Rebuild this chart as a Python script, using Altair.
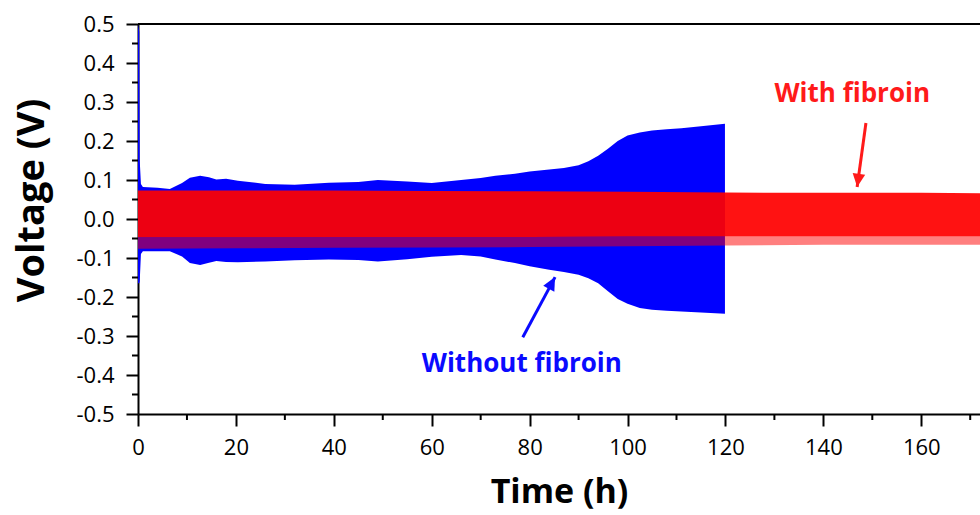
import math
import altair as alt
import pandas as pd

# ---- cell voltage envelopes (h, V) ----
# without fibroin: upper / lower edge of the cycling signal
blue_t = [0, 0.25, 0.35, 0.6, 1, 4, 6.5, 9, 10.6, 12.7,
          14.5, 16, 18, 20.4, 26, 32, 39, 45, 49, 55,
          60, 66, 70, 73, 77, 80, 84, 87, 90, 92,
          94, 96, 98, 100, 102.5, 105, 108, 111, 115, 119.9]
blue_upper = [0.5, 0.48, 0.15, 0.09, 0.082, 0.08, 0.077, 0.092, 0.106, 0.111,
              0.107, 0.101, 0.103, 0.098, 0.09, 0.088, 0.093, 0.095, 0.1, 0.096,
              0.092, 0.1, 0.105, 0.111, 0.116, 0.122, 0.127, 0.131, 0.138, 0.148,
              0.162, 0.18, 0.2, 0.214, 0.222, 0.227, 0.23, 0.233, 0.238, 0.244]
blue_lower = [-0.165, -0.165, -0.16, -0.09, -0.083, -0.083, -0.083, -0.096, -0.113, -0.118,
              -0.112, -0.108, -0.11, -0.111, -0.109, -0.106, -0.104, -0.105, -0.109, -0.103,
              -0.097, -0.092, -0.096, -0.104, -0.113, -0.121, -0.13, -0.136, -0.143, -0.152,
              -0.165, -0.185, -0.205, -0.217, -0.228, -0.233, -0.235, -0.237, -0.24, -0.243]

# with fibroin: solid band plus the spiky lower fringe
red_t = [0, 20, 40, 60, 80, 100, 120, 140, 160, 172]
red_upper = [0.073, 0.073, 0.073, 0.072, 0.071, 0.07, 0.068, 0.067, 0.067, 0.066]
red_lower = [-0.047, -0.047, -0.046, -0.046, -0.046, -0.045, -0.045, -0.045, -0.045, -0.045]
red_fringe = [-0.076, -0.075, -0.074, -0.073, -0.072, -0.07, -0.068, -0.066, -0.066, -0.066]

# axis ticks
x_major = [0, 20, 40, 60, 80, 100, 120, 140, 160]
x_minor = [10, 30, 50, 70, 90, 110, 130, 150, 170]
y_major = [-0.5, -0.4, -0.3, -0.2, -0.1, 0.0, 0.1, 0.2, 0.3, 0.4, 0.5]
y_minor = [-0.45, -0.35, -0.25, -0.15, -0.05, 0.05, 0.15, 0.25, 0.35, 0.45]

# annotations: label anchor, arrow tail, arrow tip
ann_text = ["With fibroin", "Without fibroin"]
ann_color = ["#ff1a1a", "#0a0aff"]
ann_tx = [145.9, 78.4]
ann_ty = [0.30, -0.392]
arrow_x0 = [148.7, 78.6]
arrow_y0 = [0.246, -0.303]
arrow_x1 = [146.9, 85.2]
arrow_y1 = [0.082, -0.149]

T_MAX = 172
W, H = 842, 390
FONT = "Open Sans"

x_scale = alt.Scale(domain=[0, T_MAX], nice=False, zero=False)
y_scale = alt.Scale(domain=[-0.5, 0.5], nice=False, zero=False)

blue = pd.DataFrame({"t": blue_t, "hi": blue_upper, "lo": blue_lower})
red = pd.DataFrame({"t": red_t, "hi": red_upper, "lo": red_lower, "fr": red_fringe})

x_axis = alt.Axis(
    values=x_major, grid=False,
    labelFont=FONT, labelFontSize=22, labelColor="black", labelPadding=11,
    labelFlush=False, labelOverlap=False,
    tickSize=12, tickWidth=2, tickColor="black",
    domainWidth=2, domainColor="black",
    titleFont=FONT, titleFontSize=34, titleFontWeight="bold", titleColor="black",
    titleY=88, titleBaseline="alphabetic",
)
y_axis = alt.Axis(
    values=y_major, grid=False,
    labelExpr="(datum.value < 0 ? '-' : '') + format(abs(datum.value), '.1f')",
    labelFont=FONT, labelFontSize=22, labelColor="black", labelPadding=12,
    labelFlush=False, labelOverlap=False,
    tickSize=12, tickWidth=2, tickColor="black",
    domainWidth=2, domainColor="black",
    titleFont=FONT, titleFontSize=38, titleFontWeight="bold", titleColor="black",
    titleAngle=-90, titleX=-95, titleY=176, titleAlign="center",
    titleBaseline="alphabetic",
)


def xq(field):
    return alt.X(f"{field}:Q", scale=x_scale, axis=x_axis, title="Time (h)")


def yq(field):
    return alt.Y(f"{field}:Q", scale=y_scale, axis=y_axis, title="Voltage (V)")


blue_area = alt.Chart(blue).mark_area(color="#0000ff", opacity=1).encode(
    x=xq("t"), y=yq("hi"), y2="lo:Q",
)

red_fringe_band = alt.Chart(red).mark_area(color="#ff0000", opacity=0.5).encode(
    x=xq("t"), y=yq("lo"), y2="fr:Q",
)

red_area = alt.Chart(red).mark_area(color="#ff0000", opacity=0.93).encode(
    x=xq("t"), y=yq("hi"), y2="lo:Q",
)

# minor ticks drawn outside the plot frame
x_minor_ticks = alt.Chart(pd.DataFrame({"t": x_minor})).mark_rule(
    color="black", strokeWidth=2, clip=False
).encode(x=xq("t"), y=alt.value(H), y2=alt.value(H + 6))

y_minor_ticks = alt.Chart(pd.DataFrame({"v": y_minor})).mark_rule(
    color="black", strokeWidth=2, clip=False
).encode(y=yq("v"), x=alt.value(0), x2=alt.value(-6))

# top frame line
top_frame = alt.Chart(pd.DataFrame({"k": [0]})).mark_rule(
    color="black", strokeWidth=2
).encode(x=alt.value(0), x2=alt.value(W), y=alt.value(0))

# arrow geometry: heading of each arrow in screen space
angles = []
for xa, ya, xb, yb in zip(arrow_x0, arrow_y0, arrow_x1, arrow_y1):
    dx = (xb - xa) * W / T_MAX
    dy = -(yb - ya) * H
    angles.append(math.degrees(math.atan2(dx, -dy)) % 360)

ann = pd.DataFrame({
    "label": ann_text, "c": ann_color,
    "tx": ann_tx, "ty": ann_ty,
    "x0": arrow_x0, "y0": arrow_y0, "x1": arrow_x1, "y1": arrow_y1,
    "a": angles,
})

labels = alt.Chart(ann).mark_text(
    font=FONT, fontSize=26, fontWeight="bold", align="center", baseline="alphabetic"
).encode(
    x=xq("tx"), y=yq("ty"),
    text="label:N",
    color=alt.Color("c:N", scale=None),
)

shafts = alt.Chart(ann).mark_rule(strokeWidth=3).encode(
    x=xq("x0"), y=yq("y0"), x2="x1:Q", y2="y1:Q",
    color=alt.Color("c:N", scale=None),
)

heads = alt.Chart(ann).mark_point(
    shape="M0,0L-0.9,1.9L0.9,1.9Z", filled=True, size=196, opacity=1
).encode(
    x=xq("x1"), y=yq("y1"),
    angle=alt.Angle("a:Q", scale=None),
    color=alt.Color("c:N", scale=None),
)

chart = alt.layer(
    blue_area, red_fringe_band, red_area,
    x_minor_ticks, y_minor_ticks, top_frame,
    shafts, heads, labels,
).properties(
    width=W, height=H,
    autosize=alt.AutoSizeParams(type="none"),
    padding={"left": 138, "top": 24, "right": 0, "bottom": 101},
).configure_view(stroke=None).configure(background="white")

chart.save("out.html", embed_options={"renderer": "svg", "actions": False})
